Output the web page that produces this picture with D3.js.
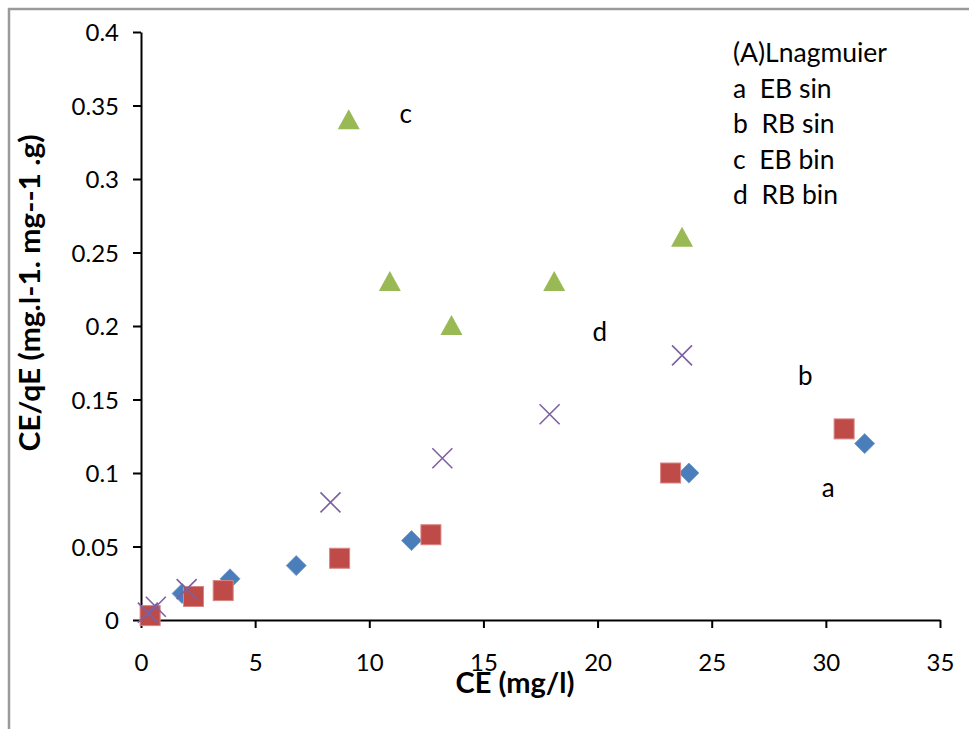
<!DOCTYPE html>
<html>
<head>
<meta charset="utf-8">
<script src="https://cdn.jsdelivr.net/npm/d3@7"></script>
<style>
  body { margin: 0; background: #fff; }
  svg text { font-family: Lato, "Open Sans", sans-serif; fill: #000; }
</style>
</head>
<body>
<div id="chart"></div>
<script>
// CE values (mg/l) and CE/qE for each series
const ebSinX = [1.8, 3.9, 6.8, 11.85, 24.0, 31.7];
const ebSinY = [0.018, 0.028, 0.037, 0.054, 0.1, 0.12];

const rbSinX = [0.4, 2.3, 3.6, 8.7, 12.7, 23.2, 30.8];
const rbSinY = [0.003, 0.016, 0.02, 0.042, 0.058, 0.1, 0.13];

const ebBinX = [9.1, 10.9, 13.6, 18.1, 23.7];
const ebBinY = [0.34, 0.23, 0.2, 0.23, 0.26];

const rbBinX = [0.3, 0.65, 2.0, 8.3, 13.2, 17.9, 23.7];
const rbBinY = [0.005, 0.009, 0.021, 0.08, 0.11, 0.14, 0.18];

const xTicks = [0, 5, 10, 15, 20, 25, 30, 35];
const yTicks = [0, 0.05, 0.1, 0.15, 0.2, 0.25, 0.3, 0.35, 0.4];

const legendLines = ["(A)Lnagmuier", "a  EB sin", "b  RB sin", "c  EB bin", "d  RB bin"];

// letters placed next to each group of points
const tagNames = ["c", "d", "b", "a"];
const tagX = [11.6, 20.1, 29.1, 30.1];
const tagY = [0.344, 0.196, 0.166, 0.09];

const width = 969, height = 729;
const margin = {left: 141, right: 29, top: 32, bottom: 109};

const svg = d3.select("#chart").append("svg")
  .attr("width", width)
  .attr("height", height);

// outer frame of the chart object
svg.append("path")
  .attr("d", "M9,740 V9 H980")
  .attr("fill", "none")
  .attr("stroke", "#9a9a9a")
  .attr("stroke-width", 2.5);

const x = d3.scaleLinear().domain([0, 35]).range([margin.left, width - margin.right]);
const y = d3.scaleLinear().domain([0, 0.4]).range([height - margin.bottom, margin.top]);

const xAxis = svg.append("g")
  .attr("transform", `translate(0,${y(0)})`)
  .call(d3.axisBottom(x).tickValues(xTicks).tickFormat(d3.format("d")).tickSize(8).tickSizeOuter(0).tickPadding(26));

const yAxis = svg.append("g")
  .attr("transform", `translate(${x(0)},0)`)
  .call(d3.axisLeft(y).tickValues(yTicks).tickFormat(d => d === 0 ? "0" : String(+d.toFixed(2))).tickSize(8).tickSizeOuter(0).tickPadding(14));

[xAxis, yAxis].forEach(g => {
  g.select(".domain").attr("stroke", "#000").attr("stroke-width", 2);
  g.selectAll(".tick line").attr("stroke", "#000").attr("stroke-width", 2);
  g.selectAll(".tick text").attr("font-size", 24).attr("font-family", "Lato, sans-serif");
});
yAxis.selectAll(".tick text").attr("dy", "0.36em");

// axis titles
svg.append("text")
  .attr("x", 515).attr("y", 693)
  .attr("text-anchor", "middle")
  .attr("font-size", 29).attr("font-weight", "bold")
  .text("CE (mg/l)");

svg.append("text")
  .attr("transform", "translate(40,293) rotate(-90)")
  .attr("text-anchor", "middle")
  .attr("font-size", 28).attr("font-weight", "bold")
  .attr("textLength", 317).attr("lengthAdjust", "spacingAndGlyphs")
  .text("CE/qE (mg.l-1. mg--1 .g)");

const plot = svg.append("g");

// a: EB sin - blue diamonds
plot.selectAll(".ebsin").data(d3.zip(ebSinX, ebSinY)).join("path")
  .attr("class", "ebsin")
  .attr("d", d3.symbol(d3.symbolSquare, 200)())
  .attr("transform", d => `translate(${x(d[0])},${y(d[1])}) rotate(45)`)
  .attr("fill", "#4a7ebb")
  .attr("stroke", "#6d97cc").attr("stroke-width", 0.8);

// b: RB sin - red squares
plot.selectAll(".rbsin").data(d3.zip(rbSinX, rbSinY)).join("rect")
  .attr("class", "rbsin")
  .attr("x", d => x(d[0]) - 10).attr("y", d => y(d[1]) - 10)
  .attr("width", 20).attr("height", 20)
  .attr("fill", "#be4b48")
  .attr("stroke", "#d98583").attr("stroke-width", 1);

// c: EB bin - green triangles
plot.selectAll(".ebbin").data(d3.zip(ebBinX, ebBinY)).join("path")
  .attr("class", "ebbin")
  .attr("transform", d => `translate(${x(d[0])},${y(d[1])})`)
  .attr("d", "M0,-11 L11,9 L-11,9 Z")
  .attr("fill", "#98b954");

// d: RB bin - purple crosses
plot.selectAll(".rbbin").data(d3.zip(rbBinX, rbBinY)).join("path")
  .attr("class", "rbbin")
  .attr("transform", d => `translate(${x(d[0])},${y(d[1])})`)
  .attr("d", "M-10,-10 L10,10 M-10,10 L10,-10")
  .attr("fill", "none")
  .attr("stroke", "#7d60a0").attr("stroke-width", 1.6);

// group letters
plot.selectAll(".tag").data(d3.zip(tagNames, tagX, tagY)).join("text")
  .attr("class", "tag")
  .attr("x", d => x(d[1])).attr("y", d => y(d[2]))
  .attr("text-anchor", "middle")
  .attr("dy", "0.35em")
  .attr("font-size", 26)
  .text(d => d[0]);

// legend text block
svg.append("g").selectAll("text").data(legendLines).join("text")
  .attr("x", 733)
  .attr("y", (d, i) => 62 + i * 35.5)
  .attr("font-size", 26.5)
  .attr("xml:space", "preserve")
  .style("white-space", "pre")
  .text(d => d);
</script>
</body>
</html>
